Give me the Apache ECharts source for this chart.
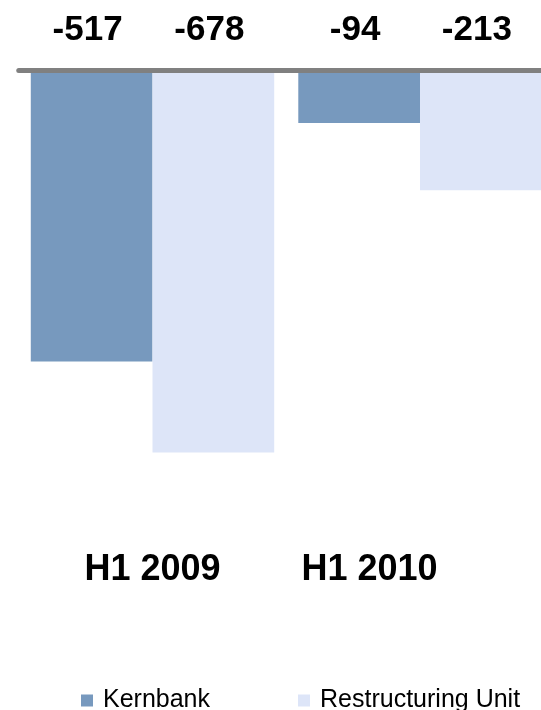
<!DOCTYPE html>
<html>
<head>
<meta charset="utf-8">
<script src="https://cdn.jsdelivr.net/npm/echarts@6/dist/echarts.min.js"></script>
<style>
  html, body { margin: 0; padding: 0; background: #fff; }
  #chart { width: 541px; height: 710px; }
</style>
</head>
<body>
<div id="chart"></div>
<script>
// data
const categories = ['H1 2009', 'H1 2010']
const seriesNames = ['Kernbank', 'Restructuring Unit']
const kernbank = [-517, -94]
const restructuring = [-678, -213]

const chart = echarts.init(document.getElementById('chart'))

const barLabel = {
  show: true,
  position: 'top',
  distance: 22,
  offset: [-4, 0],
  formatter: '{c}',
  color: '#000',
  fontFamily: 'Liberation Sans, Arial, sans-serif',
  fontWeight: 'bold',
  fontSize: 35
}

chart.setOption({
  animation: false,
  backgroundColor: '#fff',
  textStyle: { fontFamily: 'Liberation Sans, Arial, sans-serif' },
  grid: {
    left: 18.75,
    width: 535,
    top: 70,
    height: 564,
    outerBoundsMode: 'none',
    containLabel: false
  },
  legend: {
    data: seriesNames,
    left: 76,
    top: 683,
    icon: 'rect',
    itemWidth: 12,
    itemHeight: 12,
    itemGap: 88,
    textStyle: {
      color: '#000',
      fontSize: 25,
      padding: [0, 0, 0, 5]
    }
  },
  xAxis: [
    {
      // zero line across the top
      type: 'category',
      data: categories,
      z: 5,
      axisLine: {
        onZero: true,
        lineStyle: { color: '#808080', width: 5, cap: 'round' }
      },
      axisTick: { show: false },
      axisLabel: { show: false },
      splitLine: { show: false }
    },
    {
      // category names lower down
      type: 'category',
      data: categories,
      position: 'bottom',
      axisLine: { show: false, onZero: false },
      axisTick: { show: false },
      splitLine: { show: false },
      axisLabel: {
        margin: -64,
        verticalAlign: 'middle',
        formatter: function (value, index) {
          return index === 1 ? '{b|' + value + '}' : '{a|' + value + '}'
        },
        rich: {
          a: { color: '#000', fontWeight: 'bold', fontSize: 36 },
          b: { color: '#000', fontWeight: 'bold', fontSize: 36, padding: [0, 101, 0, 0] }
        }
      }
    }
  ],
  yAxis: {
    type: 'value',
    min: -1000,
    max: 0,
    show: false,
    splitLine: { show: false }
  },
  series: [
    {
      name: seriesNames[0],
      type: 'bar',
      data: kernbank,
      barGap: '0%',
      barCategoryGap: '9%',
      itemStyle: { color: '#7799BE' },
      label: barLabel
    },
    {
      name: seriesNames[1],
      type: 'bar',
      data: restructuring,
      itemStyle: { color: '#DDE5F8' },
      label: barLabel
    }
  ]
})
</script>
</body>
</html>
